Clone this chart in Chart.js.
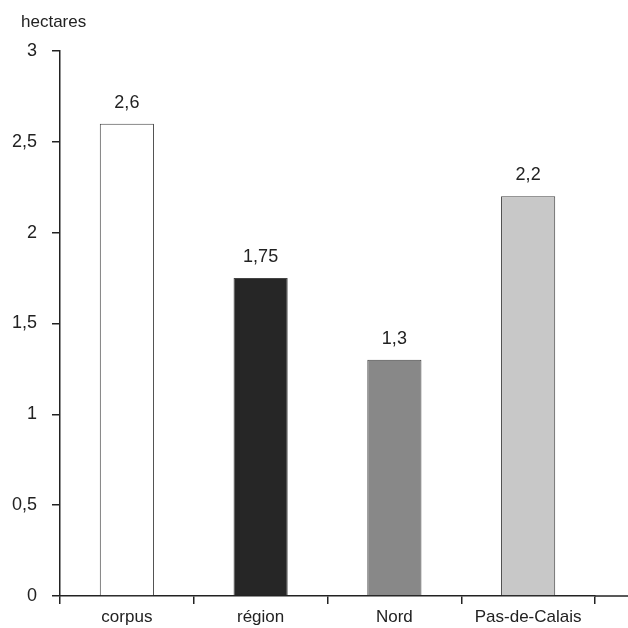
<!DOCTYPE html>
<html>
<head>
<meta charset="utf-8">
<script src="https://cdn.jsdelivr.net/npm/chart.js@4"></script>
<style>
  html, body { margin: 0; padding: 0; background: #fff; }
  #wrap { width: 628px; height: 628px; }
</style>
</head>
<body>
<div id="wrap"><canvas id="chart" width="628" height="628"></canvas></div>
<script>
// données
const categories = ['corpus', 'région', 'Nord', 'Pas-de-Calais'];
const values = [2.6, 1.75, 1.3, 2.2];
const barColors = ['#ffffff', '#262626', '#888888', '#c8c8c8'];
const yTicks = [0, 0.5, 1, 1.5, 2, 2.5, 3];
const unitLabel = 'hectares';

const fontFamily = '"Liberation Sans", Arial, sans-serif';
const frNum = v => String(v).replace('.', ',');

// étiquettes au-dessus des barres + titre de l'axe
const extras = {
  id: 'extras',
  afterDatasetsDraw(chart) {
    const ctx = chart.ctx;
    const meta = chart.getDatasetMeta(0);
    ctx.save();
    ctx.font = '18px ' + fontFamily;
    ctx.fillStyle = '#222';
    ctx.textAlign = 'center';
    ctx.textBaseline = 'alphabetic';
    meta.data.forEach((bar, i) => {
      ctx.fillText(frNum(values[i]), bar.x, bar.y - 16);
    });
    // titre
    ctx.font = '17px ' + fontFamily;
    ctx.textAlign = 'left';
    ctx.textBaseline = 'middle';
    ctx.fillText(unitLabel, chart.chartArea.left - 39, 22);
    // prolongement de l'axe des x
    const y0 = chart.scales.y.getPixelForValue(0);
    ctx.strokeStyle = '#222';
    ctx.lineWidth = 1.5;
    ctx.beginPath();
    ctx.moveTo(chart.chartArea.right, y0);
    ctx.lineTo(chart.width, y0);
    ctx.stroke();
    ctx.restore();
  }
};

new Chart(document.getElementById('chart'), {
  type: 'bar',
  data: {
    labels: categories,
    datasets: [{
      data: values,
      backgroundColor: barColors,
      borderColor: '#444',
      borderWidth: 1,
      barPercentage: 0.405,
      categoryPercentage: 1
    }]
  },
  options: {
    responsive: false,
    animation: false,
    devicePixelRatio: 1,
    layout: { padding: { top: 51, right: 33, left: 0, bottom: 0 } },
    plugins: {
      legend: { display: false },
      tooltip: { enabled: false }
    },
    scales: {
      x: {
        offset: true,
        afterFit: s => { s.height = 32; },
        grid: {
          offset: true,
          drawOnChartArea: false,
          tickLength: 8,
          color: '#222',
          lineWidth: 1.5
        },
        border: { display: true, color: '#222', width: 1.5 },
        ticks: {
          color: '#222',
          padding: 3,
          font: { size: 17, family: fontFamily }
        }
      },
      y: {
        min: 0,
        max: 3,
        afterFit: s => { s.width = 60; },
        afterBuildTicks: s => { s.ticks = yTicks.map(v => ({ value: v })); },
        grid: {
          drawOnChartArea: false,
          tickLength: 8,
          color: '#222',
          lineWidth: 1.5
        },
        border: { display: true, color: '#222', width: 1.5 },
        ticks: {
          color: '#222',
          padding: 15,
          font: { size: 18, family: fontFamily },
          callback: v => frNum(v)
        }
      }
    }
  },
  plugins: [extras]
});
</script>
</body>
</html>
